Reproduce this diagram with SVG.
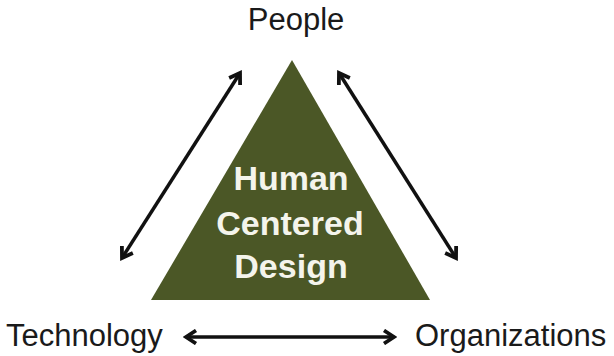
<svg xmlns="http://www.w3.org/2000/svg" width="614" height="356" viewBox="0 0 614 356">
<style>
.lbl{font-family:"Liberation Sans",Arial,sans-serif;font-size:31px;fill:#1a1a1a}
.in{font-family:"Liberation Sans",Arial,sans-serif;font-size:34px;font-weight:bold;fill:#f4f4ec;text-anchor:middle}
.con{stroke:#111;stroke-width:3.5;fill:none}
</style>
<defs>
<marker id="ah" viewBox="0 0 16 16" refX="13" refY="8" markerWidth="16" markerHeight="16" markerUnits="userSpaceOnUse" orient="auto-start-reverse">
<path d="M3,1.5 L13,8 L3,14.5" fill="none" stroke="#111" stroke-width="3.8" stroke-linejoin="miter"/>
</marker>
</defs>
<g id="center">
<polygon points="292,60 151,300 430,300" fill="#4b5726"/>
<text class="in" x="291" y="190">Human</text>
<text class="in" x="290" y="235">Centered</text>
<text class="in" x="291" y="278">Design</text>
</g>
<g id="people"><text class="lbl" x="296" y="30" text-anchor="middle">People</text></g>
<g id="technology"><text class="lbl" x="6" y="346">Technology</text></g>
<g id="organizations"><text class="lbl" x="415" y="346">Organizations</text></g>
<g id="connectors">
<line class="con" x1="122" y1="258" x2="240" y2="73" marker-start="url(#ah)" marker-end="url(#ah)"/>
<line class="con" x1="339" y1="73" x2="456" y2="258" marker-start="url(#ah)" marker-end="url(#ah)"/>
<line class="con" x1="186" y1="337" x2="394" y2="337" marker-start="url(#ah)" marker-end="url(#ah)"/>
</g>
</svg>
